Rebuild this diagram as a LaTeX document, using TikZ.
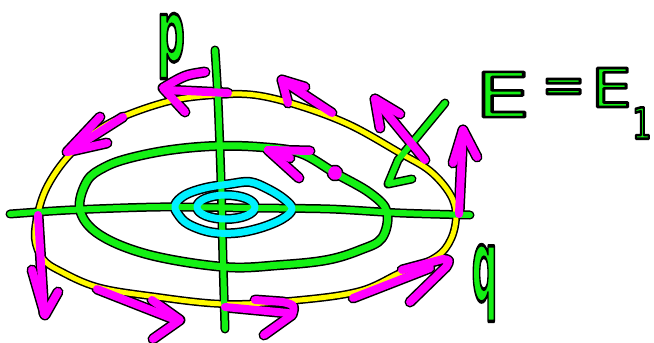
\documentclass[tikz,border=0pt]{standalone}
\usepackage{fontspec}
\setmainfont{DejaVu Sans}
\usepackage{graphicx}
\definecolor{grn}{RGB}{20,240,20}
\definecolor{yel}{RGB}{255,250,0}
\definecolor{mag}{RGB}{255,0,255}
\definecolor{cyn}{RGB}{0,240,255}
\newcommand\outl[2]{\special{pdf:literal direct 2 Tr 0 0 0 RG 1 j #1 w}#2\special{pdf:literal direct 0 Tr}}
\newif\ifolpass
\newcommand\strk[3]{\ifolpass\draw[black,line width={#2+3}] #3;\else\draw[#1,line width=#2] #3;\fi}
\newcommand\allstrokes{%
  % yellow energy curve
  \strk{yel}{5}{plot[smooth cycle, tension=0.6] coordinates {(215,95) (255,95) (300,106) (350,125) (400,153) (430,171) (450,194) (456,215) (451,239) (436,257) (400,273) (360,291) (300,300) (225,304) (150,296) (97,287) (60,271) (43,259) (35,239) (38,213) (47,187) (65,160) (90,136) (120,118) (170,101)}}
  % axes
  \strk{grn}{6}{plot[smooth] coordinates {(10,214) (70,210) (160,207) (250,208) (330,209) (400,213) (470,215)}}
  \strk{grn}{6}{plot[smooth] coordinates {(215,50) (218,100) (221,180) (223,260) (225,329)}}
  % green orbit
  \strk{grn}{7}{plot[smooth cycle, tension=0.6] coordinates {(80,210) (87,181) (105,167) (130,158) (170,150) (215,146) (260,147) (300,153) (335,173) (370,193) (387,212) (382,238) (360,250) (327,260) (280,265) (225,267) (150,255) (100,235)}}
  % cyan orbits
  \strk{cyn}{7}{plot[smooth cycle, tension=0.6] coordinates {(175,205) (185,195) (205,188) (230,184) (250,182) (268,189) (284,199) (292,209) (282,219) (260,228) (235,233) (210,232) (188,224) (178,214)}}
  \strk{cyn}{7}{(226,207) ellipse[x radius=29, y radius=12]}
  % green pointer
  \strk{grn}{6}{(445,103) -- (398,160) -- (388,184) -- (412,179)}
  % magenta arrows
  \strk{mag}{8}{(228,93) -- (165,90)}
  \strk{mag}{8}{(205,72) .. controls (185,75) .. (163,88) -- (185,112)}
  \strk{mag}{8}{(332,113) -- (282,80)}
  \strk{mag}{8}{(305,87) -- (282,80) -- (288,103)}
  \strk{mag}{8}{(425,160) -- (375,99)}
  \strk{mag}{8}{(400,114) -- (375,99) -- (380,128)}
  \strk{mag}{8}{(459,214) -- (463,130)}
  \strk{mag}{8}{(453,163) -- (463,130) -- (477,157)}
  \strk{mag}{8}{(353,298) -- (430,268)}
  \strk{mag}{8}{(402,270) -- (443,259) .. controls (450,260) .. (446,267) -- (410,302)}
  \strk{mag}{8}{(225,307) -- (288,313)}
  \strk{mag}{8}{(255,300) -- (283,302) .. controls (295,305) .. (292,315) -- (264,335)}
  \strk{mag}{8}{(97,289) -- (176,320)}
  \strk{mag}{8}{(152,300) -- (180,320) -- (153,339)}
  \strk{mag}{8}{(38,215) -- (44,314)}
  \strk{mag}{8}{(32,270) -- (45,315) -- (58,292)}
  \strk{mag}{8}{(123,117) -- (68,152)}
  \strk{mag}{8}{(100,117) -- (67,152) -- (107,143)}
  \strk{mag}{8}{(299,178) -- (268,150) -- (310,151)}
  \strk{mag}{8}{(268,150) -- (290,158)}
  \strk{mag}{8}{(335,173) circle[radius=3]}
}
\begin{document}
\begin{tikzpicture}[x=1pt,y=-1pt,line cap=round,line join=round,
  lbl/.style={text=grn,inner sep=0pt}]
\useasboundingbox (0,0) rectangle (654,343);
\fill[white] (0,0) rectangle (654,343);
\olpasstrue\allstrokes
\olpassfalse\allstrokes
\node[lbl,font=\bfseries\fontsize{55}{55}\selectfont] (plab) at (171,46) {\scalebox{0.71}[1.545]{\outl{2.2}{p}}};
\node[lbl,font=\bfseries\fontsize{60}{60}\selectfont] (qlab) at (484.5,283) {\scalebox{0.6}[1.667]{\outl{2.2}{q}}};
\node[lbl,font=\fontsize{62}{62}\selectfont] (eqE) at (502.5,94.5) {\scalebox{1.41}[1]{\outl{2.6}{E}}};
\node[lbl,anchor=base,font=\fontsize{53}{53}\selectfont] (eqsign) at (563.5,103) {\outl{2.8}{=}};
\node[lbl,anchor=base west] (eqEb) at (591,107) {{\fontsize{53.5}{53.5}\selectfont\scalebox{1.2}[1]{\outl{2.6}{E}}}\hspace{0.3pt}\raisebox{-31.7pt}{\fontsize{43}{43}\selectfont\scalebox{0.72}[1]{\outl{2.6}{1}}}};
\end{tikzpicture}
\end{document}
